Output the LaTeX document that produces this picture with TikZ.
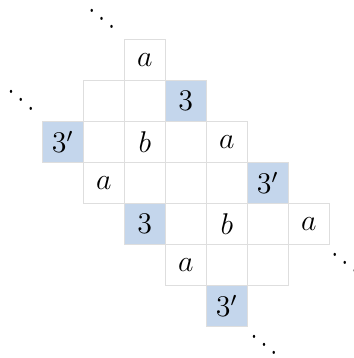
\documentclass[tikz,border=0pt]{standalone}
\usepackage{amsmath,amssymb}
\definecolor{tileblue}{RGB}{196,214,236}
\definecolor{tilegray}{RGB}{222,222,222}
\newcommand{\moredots}{\scalebox{0.86}[1.11]{$\ddots$}}
\tikzset{
  tile/.style={draw=tilegray, line width=0.5pt, minimum size=16.4pt, inner sep=0pt, font=\large},
  marked/.style={tile, fill=tileblue},
  more/.style={font=\large, inner sep=0pt},
}

\begin{document}
\begin{tikzpicture}[x=16.4pt,y=-16.4pt]
\useasboundingbox (-1.03,-0.96) rectangle (7.60,7.77);
% row 0
\node[tile] (r0c2) at (2.5,0.5) {$a$};
% row 1
\node[tile] (r1c1) at (1.5,1.5) {};
\node[tile] (r1c2) at (2.5,1.5) {};
\node[marked] (r1c3) at (3.5,1.5) {$3$};
% row 2
\node[marked] (r2c0) at (0.5,2.5) {$3'$};
\node[tile] (r2c1) at (1.5,2.5) {};
\node[tile] (r2c2) at (2.5,2.5) {$b$};
\node[tile] (r2c3) at (3.5,2.5) {};
\node[tile] (r2c4) at (4.5,2.5) {$a$};
% row 3
\node[tile] (r3c1) at (1.5,3.5) {$a$};
\node[tile] (r3c2) at (2.5,3.5) {};
\node[tile] (r3c3) at (3.5,3.5) {};
\node[tile] (r3c4) at (4.5,3.5) {};
\node[marked] (r3c5) at (5.5,3.5) {$3'$};
% row 4
\node[marked] (r4c2) at (2.5,4.5) {$3$};
\node[tile] (r4c3) at (3.5,4.5) {};
\node[tile] (r4c4) at (4.5,4.5) {$b$};
\node[tile] (r4c5) at (5.5,4.5) {};
\node[tile] (r4c6) at (6.5,4.5) {$a$};
% row 5
\node[tile] (r5c3) at (3.5,5.5) {$a$};
\node[tile] (r5c4) at (4.5,5.5) {};
\node[tile] (r5c5) at (5.5,5.5) {};
% row 6
\node[marked] (r6c4) at (4.5,6.5) {$3'$};
% continuation dots
\node[more] (dtop) at (1.45,-0.70) {\moredots};
\node[more] (dleft) at (-0.52,1.28) {\moredots};
\node[more] (dright) at (7.38,5.25) {\moredots};
\node[more] (dbottom) at (5.41,7.25) {\moredots};
\end{tikzpicture}
\end{document}
